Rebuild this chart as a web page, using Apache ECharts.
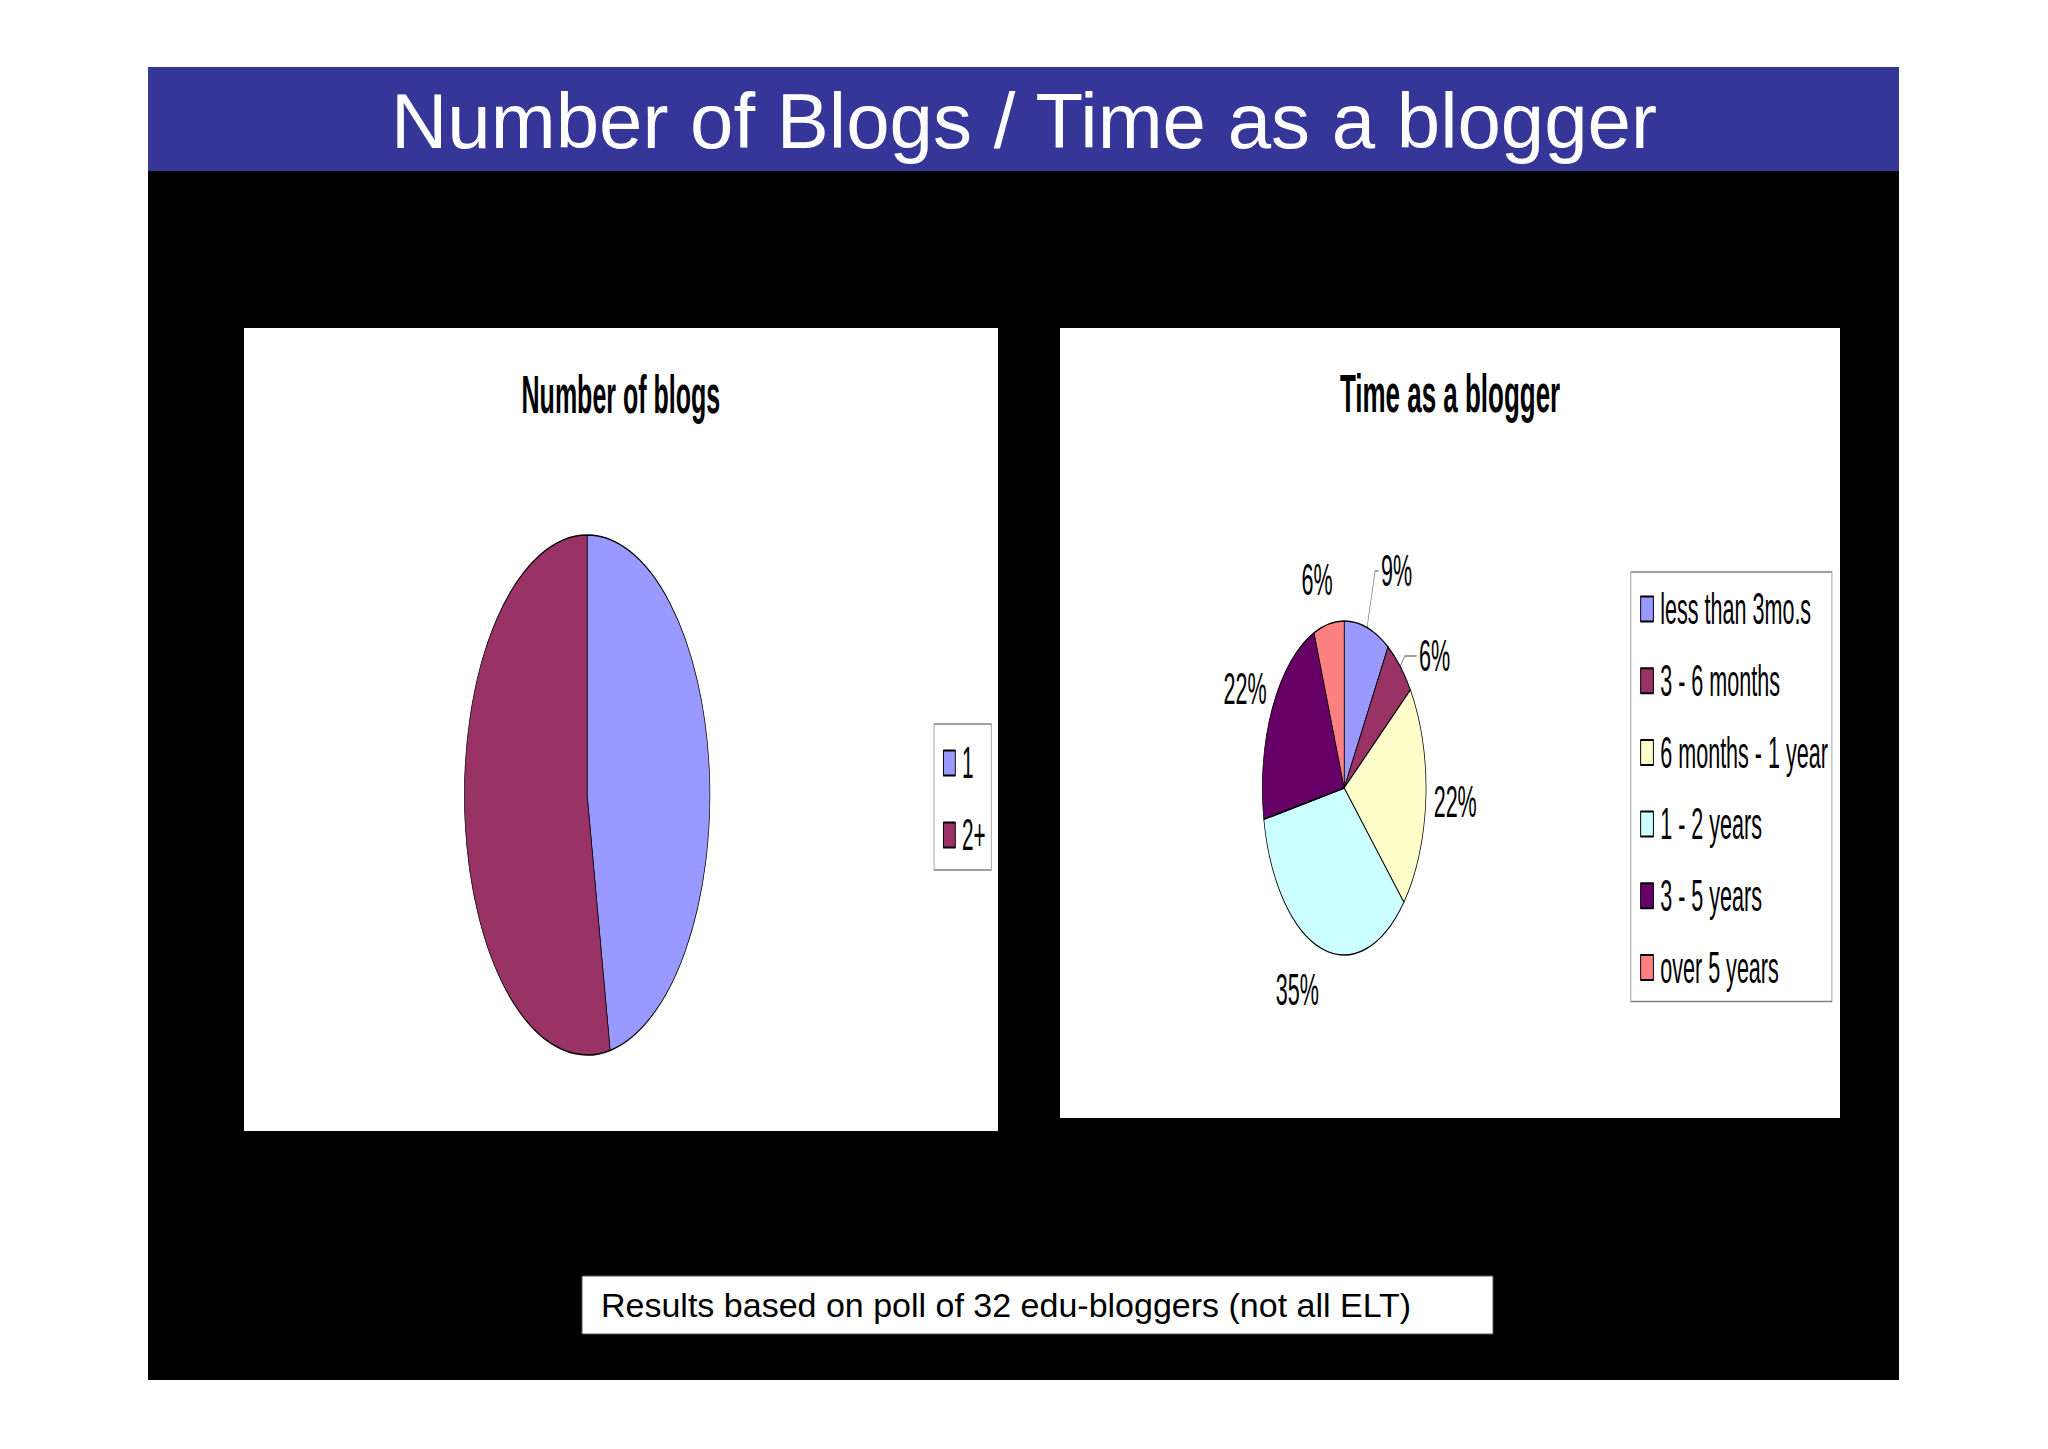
<!DOCTYPE html>
<html>
<head>
<meta charset="utf-8">
<style>
  html, body { margin: 0; padding: 0; background: #fff; }
  #page { position: absolute; left: 0; top: 0; width: 2048px; height: 1449px; }
  .panel { position: absolute; overflow: hidden; background: #fff; }
  .squash { position: absolute; left: 0; top: 0; transform-origin: 0 0; }
</style>
</head>
<body>
<div id="page"></div>
<div class="panel" style="left:244px;top:328px;width:754px;height:803px">
  <div class="squash" id="blogs"></div>
</div>
<div class="panel" style="left:1060px;top:328px;width:780px;height:790px">
  <div class="squash" id="time"></div>
</div>
<script src="https://cdn.jsdelivr.net/npm/echarts@6/dist/echarts.min.js"></script>
<script>
var slideTitle = 'Number of Blogs / Time as a blogger';
var footNote = 'Results based on poll of 32 edu-bloggers (not all ELT)';

var blogTitle = 'Number of blogs';
var blogCats = ['1', '2+'];
var blogValues = [47, 53];

var timeTitle = 'Time as a blogger';
var timeCats = ['less than 3mo.s', '3 - 6 months', '6 months - 1 year', '1 - 2 years', '3 - 5 years', 'over 5 years'];
var timeValues = [9, 6, 22, 35, 22, 6];

var palette = ['#9999FF', '#993366', '#FFFFCC', '#CCFFFF', '#660066', '#FF8080'];
var FONT = '"Liberation Sans", Arial, sans-serif';

// slide background, banner and footnote
var page = echarts.init(document.getElementById('page'), null, { renderer: 'svg' });
page.setOption({
  animation: false,
  backgroundColor: '#ffffff',
  graphic: [
    { type: 'rect', shape: { x: 148, y: 171, width: 1751, height: 1209 }, style: { fill: '#000000' } },
    { type: 'rect', shape: { x: 148, y: 67, width: 1751, height: 104 }, style: { fill: '#363699' } },
    { type: 'text', x: 1024, y: 121, style: { text: slideTitle, fill: '#ffffff', fontFamily: FONT, fontSize: 78, align: 'center', verticalAlign: 'middle' } },
    { type: 'rect', shape: { x: 582, y: 1276, width: 911, height: 58 }, style: { fill: '#ffffff', stroke: '#555555', lineWidth: 1 } },
    { type: 'text', x: 601, y: 1305, style: { text: footNote, fill: '#000000', fontFamily: FONT, fontSize: 34, align: 'left', verticalAlign: 'middle' } }
  ]
});

// the pasted charts are squeezed horizontally, so draw them wide and scale them down
function squashed(id, panelW, panelH, s) {
  var el = document.getElementById(id);
  el.style.width = Math.round(panelW / s) + 'px';
  el.style.height = panelH + 'px';
  el.style.transform = 'scaleX(' + s + ')';
  return echarts.init(el, null, { renderer: 'svg' });
}

function legendStyle() {
  return { fontFamily: FONT, fontSize: 44, color: '#000000', padding: [0, 0, 0, 9] };
}

var blogs = squashed('blogs', 754, 803, 0.472);
blogs.setOption({
  animation: false,
  backgroundColor: '#ffffff',
  color: palette,
  title: {
    text: blogTitle, left: 'center', top: 35,
    textStyle: { fontFamily: FONT, fontSize: 53, fontWeight: 'bold', color: '#000000' }
  },
  legend: {
    orient: 'vertical', left: 1462, top: 396,
    itemWidth: 25, itemHeight: 25, itemGap: 28,
    padding: [17, 12, 13, 19],
    borderColor: '#808080', borderWidth: 1.5, backgroundColor: '#ffffff',
    icon: 'rect', selectedMode: false,
    textStyle: legendStyle(),
    data: blogCats
  },
  series: [{
    type: 'pie',
    center: [727, 467],
    radius: 260,
    startAngle: 90,
    clockwise: true,
    avoidLabelOverlap: false,
    label: { show: false },
    labelLine: { show: false },
    itemStyle: { borderColor: '#000000', borderWidth: 1.5 },
    emphasis: { disabled: true },
    data: blogCats.map(function (c, i) { return { name: c, value: blogValues[i] }; })
  }]
});

// label placement for each slice: [show line, length, length2, distance]
var timeLabelLayout = [
  [true, 59, 7, 5],
  [true, 14, 24, 5],
  [false, 60, 0, -44],
  [false, 43, 37, -44],
  [false, 40, 21, -44],
  [false, 45, 16, -32]
];

var time = squashed('time', 780, 790, 0.49);
time.setOption({
  animation: false,
  backgroundColor: '#ffffff',
  color: palette,
  title: {
    text: timeTitle, left: 'center', top: 34,
    textStyle: { fontFamily: FONT, fontSize: 53, fontWeight: 'bold', color: '#000000' }
  },
  legend: {
    orient: 'vertical', left: 1165, top: 244,
    itemWidth: 26, itemHeight: 25, itemGap: 27.7,
    padding: [15, 8, 12, 19],
    borderColor: '#808080', borderWidth: 1.5, backgroundColor: '#ffffff',
    icon: 'rect', selectedMode: false,
    textStyle: legendStyle(),
    data: timeCats
  },
  series: [{
    type: 'pie',
    center: [580, 460],
    radius: 167,
    startAngle: 90,
    clockwise: true,
    avoidLabelOverlap: false,
    label: {
      show: true, position: 'outside', formatter: '{c}%',
      fontFamily: FONT, fontSize: 44, color: '#000000'
    },
    labelLine: { show: false, lineStyle: { color: '#808080', width: 1.5 } },
    itemStyle: { borderColor: '#000000', borderWidth: 1.5 },
    emphasis: { disabled: true },
    data: timeCats.map(function (c, i) {
      var l = timeLabelLayout[i];
      return {
        name: c,
        value: timeValues[i],
        label: { distanceToLabelLine: l[3] },
        labelLine: { show: l[0], length: l[1], length2: l[2] }
      };
    })
  }]
});
</script>
</body>
</html>
